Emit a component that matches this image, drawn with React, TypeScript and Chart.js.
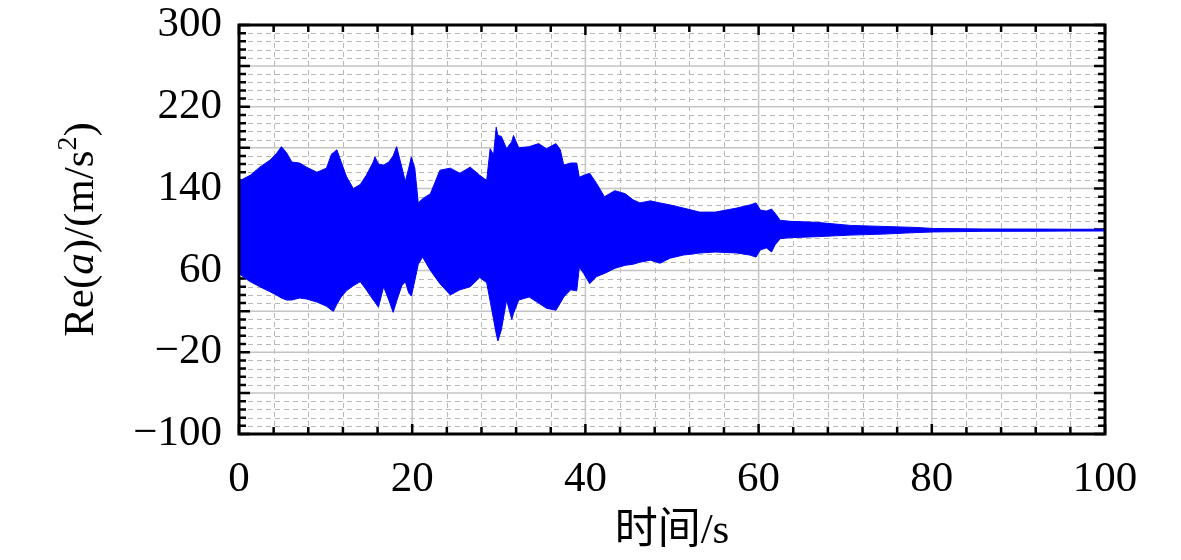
import { useEffect, useRef } from "react";
import { Chart, registerables } from "chart.js";

Chart.register(...registerables);

// time samples (s) along the record
const times = [
  0, 0.6, 1.3, 2.4, 3.6, 4.3, 4.9, 5.5, 6.1, 7, 7.8, 9, 10.1, 10.7, 10.9, 11.3,
  11.8, 12.4, 13.2, 14, 14.7, 15.5, 15.7, 16.1, 16.7, 17.3, 17.8, 18.2, 18.8,
  19.2, 19.6, 19.9, 20.3, 20.7, 21.2, 22.1, 23.2, 24.4, 25.5, 26.7, 27.8, 28.6,
  29, 29.4, 29.7, 29.9, 30.3, 30.9, 31.5, 31.7, 32.3, 33.5, 34.6, 35.5, 36.6,
  37.1, 37.5, 38.3, 39, 39.3, 39.8, 40.5, 41.3, 42.2, 43.4, 44.6, 45.5, 46.3,
  47.5, 48.6, 49.8, 51.3, 53.2, 55, 57.5, 59, 59.7, 60.2, 60.9, 61.5, 61.9,
  62.5, 63.6, 66.7, 70.6, 74.4, 78.2, 80.2, 86, 92, 96, 100,
];

// upper envelope of Re(a), m/s^2
const upperEnvelope = [
  147, 150, 153, 161, 168, 174, 181, 175, 166, 165, 161, 156, 160, 174, 175, 178,
  166, 152, 140, 144, 153, 166, 171, 164, 163, 166, 172, 181, 161,
  147, 160, 171, 160, 126, 130, 135, 158, 160, 155, 161, 153, 148,
  179, 173, 200, 192, 191, 179, 186, 192, 180, 181, 184, 179, 184,
  178, 163, 165, 165, 151, 153, 155, 145, 132, 138, 135, 129, 126,
  128, 126, 124, 121, 117, 117, 121, 124, 126, 119, 118, 120, 116,
  109, 108, 107, 104, 103, 102, 101, 100.5, 100.4, 100.2, 100.2,
];

// lower envelope of Re(a), m/s^2
const lowerEnvelope = [
  57, 53, 49, 44, 39, 36, 33, 31, 31, 33, 32, 29, 25, 21, 20, 27,
  34, 40, 45, 49, 41, 31, 29, 24, 44, 31, 19, 30, 45,
  49, 38, 35, 50, 66, 73, 60, 47, 36, 41, 44, 53, 48,
  30, 12, -2, -9, 2, 31, 12, 18, 31, 34, 28, 23, 21,
  28, 34, 41, 40, 63, 57, 47, 54, 57, 62, 65, 66, 68,
  70, 67, 72, 75, 77, 78, 77, 75, 73, 80, 82, 78, 85,
  91, 92, 93, 94.5, 95.5, 97, 97.6, 98.2, 98.3, 98.5, 98.5,
];

const X_MIN = 0;
const X_MAX = 100;
const X_LABEL_STEP = 20;
const X_MINOR_STEP = 4;
const Y_MIN = -100;
const Y_MAX = 300;
const Y_LABEL_STEP = 80;
const Y_MAJOR_STEP = 40;
const Y_MINOR_STEP = 8;

const SERIF = "'Liberation Serif', 'Times New Roman', 'Noto Sans CJK SC', serif";
const FONT_SIZE = 43;

const frameAndGrid = {
  id: "frameAndGrid",
  beforeDatasetsDraw(chart: any) {
    const { ctx, chartArea: a } = chart;
    const xs = chart.scales.x;
    const ys = chart.scales.y;
    ctx.save();

    // dashed minor grid
    ctx.lineWidth = 1;
    ctx.strokeStyle = "#b8b8b8";
    ctx.setLineDash([5, 4]);
    ctx.beginPath();
    for (let v = X_MIN + X_MINOR_STEP; v < X_MAX; v += X_MINOR_STEP) {
      if (v % X_LABEL_STEP === 0) continue;
      const px = Math.round(xs.getPixelForValue(v)) + 0.5;
      ctx.moveTo(px, a.top);
      ctx.lineTo(px, a.bottom);
    }
    for (let v = Y_MIN + Y_MINOR_STEP; v < Y_MAX; v += Y_MINOR_STEP) {
      if ((v - Y_MIN) % Y_MAJOR_STEP === 0) continue;
      const py = Math.round(ys.getPixelForValue(v)) + 0.5;
      ctx.moveTo(a.left, py);
      ctx.lineTo(a.right, py);
    }
    ctx.stroke();

    // solid major grid
    ctx.setLineDash([]);
    ctx.strokeStyle = "#c4c4c4";
    ctx.lineWidth = 1.5;
    ctx.beginPath();
    for (let v = X_MIN + X_LABEL_STEP; v < X_MAX; v += X_LABEL_STEP) {
      const px = xs.getPixelForValue(v);
      ctx.moveTo(px, a.top);
      ctx.lineTo(px, a.bottom);
    }
    for (let v = Y_MIN + Y_MAJOR_STEP; v < Y_MAX; v += Y_MAJOR_STEP) {
      const py = ys.getPixelForValue(v);
      ctx.moveTo(a.left, py);
      ctx.lineTo(a.right, py);
    }
    ctx.stroke();

    // inward ticks on all four sides
    ctx.strokeStyle = "#000";
    ctx.lineWidth = 2.5;
    ctx.beginPath();
    for (let v = X_MIN; v <= X_MAX; v += X_MINOR_STEP) {
      const len = v % X_LABEL_STEP === 0 ? 10 : 7;
      const px = xs.getPixelForValue(v);
      ctx.moveTo(px, a.bottom);
      ctx.lineTo(px, a.bottom - len);
      ctx.moveTo(px, a.top);
      ctx.lineTo(px, a.top + len);
    }
    for (let v = Y_MIN; v <= Y_MAX; v += Y_MINOR_STEP) {
      const len = (v - Y_MIN) % Y_MAJOR_STEP === 0 ? 11 : 7;
      const py = ys.getPixelForValue(v);
      ctx.moveTo(a.left, py);
      ctx.lineTo(a.left + len, py);
      ctx.moveTo(a.right, py);
      ctx.lineTo(a.right - len, py);
    }
    ctx.stroke();
    ctx.restore();
  },
  afterDatasetsDraw(chart: any) {
    const { ctx, chartArea: a } = chart;
    ctx.save();
    ctx.strokeStyle = "#000";
    ctx.lineWidth = 3;
    ctx.strokeRect(a.left, a.top, a.right - a.left, a.bottom - a.top);
    ctx.restore();
  },
  afterDraw(chart: any) {
    const { ctx, chartArea: a } = chart;
    ctx.save();
    ctx.fillStyle = "#000";

    // x title
    ctx.font = `${FONT_SIZE}px ${SERIF}`;
    ctx.textAlign = "center";
    ctx.textBaseline = "middle";
    ctx.fillText("时间/s", (a.left + a.right) / 2, a.bottom + 98);

    // y title, mixed styles: Re(a)/(m/s²)
    const parts = [
      { t: "Re(", f: `${FONT_SIZE}px ${SERIF}`, dy: 0 },
      { t: "a", f: `italic ${FONT_SIZE}px ${SERIF}`, dy: 0 },
      { t: ")/(m/s", f: `${FONT_SIZE}px ${SERIF}`, dy: 0 },
      { t: "2", f: `28px ${SERIF}`, dy: -17 },
      { t: ")", f: `${FONT_SIZE}px ${SERIF}`, dy: 0 },
    ];
    const widths = parts.map((p) => {
      ctx.font = p.f;
      return ctx.measureText(p.t).width;
    });
    const total = widths.reduce((s, w) => s + w, 0);
    ctx.translate(a.left - 146, (a.top + a.bottom) / 2);
    ctx.rotate(-Math.PI / 2);
    ctx.textAlign = "left";
    ctx.textBaseline = "alphabetic";
    let cx = -total / 2;
    parts.forEach((p, i) => {
      ctx.font = p.f;
      ctx.fillText(p.t, cx, p.dy);
      cx += widths[i];
    });
    ctx.restore();
  },
};

export default function App() {
  const canvasRef = useRef<HTMLCanvasElement | null>(null);

  useEffect(() => {
    if (!canvasRef.current) return;
    const upper = times.map((t, i) => ({ x: t, y: upperEnvelope[i] }));
    const lower = times.map((t, i) => ({ x: t, y: lowerEnvelope[i] }));

    const chart = new Chart(canvasRef.current, {
      type: "line",
      data: {
        datasets: [
          {
            label: "upper",
            data: upper,
            borderColor: "#0000ff",
            backgroundColor: "#0000ff",
            borderWidth: 1,
            pointRadius: 0,
            tension: 0,
            fill: "+1",
          },
          {
            label: "lower",
            data: lower,
            borderColor: "#0000ff",
            backgroundColor: "#0000ff",
            borderWidth: 1,
            pointRadius: 0,
            tension: 0,
            fill: false,
          },
        ],
      },
      options: {
        animation: false,
        responsive: true,
        maintainAspectRatio: false,
        layout: { padding: { top: 25, right: 76, left: 0, bottom: 0 } },
        plugins: {
          legend: { display: false },
          tooltip: { enabled: false },
        },
        scales: {
          x: {
            type: "linear",
            min: X_MIN,
            max: X_MAX,
            grid: { display: false, drawTicks: false, tickLength: 0 },
            border: { display: false },
            ticks: {
              stepSize: X_LABEL_STEP,
              padding: 20,
              color: "#000",
              maxRotation: 0,
              font: { family: SERIF, size: FONT_SIZE },
            },
            afterFit: (s: any) => {
              s.height = 126;
              s.paddingLeft = 0;
              s.paddingRight = 0;
            },
          },
          y: {
            type: "linear",
            min: Y_MIN,
            max: Y_MAX,
            grid: { display: false, drawTicks: false, tickLength: 0 },
            border: { display: false },
            ticks: {
              stepSize: Y_LABEL_STEP,
              padding: 17,
              color: "#000",
              font: { family: SERIF, size: FONT_SIZE },
              callback: (v: any) => String(v).replace("-", "\u2212"),
            },
            afterFit: (s: any) => {
              s.width = 239;
              s.paddingTop = 0;
              s.paddingBottom = 0;
            },
          },
        },
      },
      plugins: [frameAndGrid],
    });

    return () => chart.destroy();
  }, []);

  return (
    <div
      style={{
        position: "fixed",
        left: 0,
        top: 0,
        width: 1181,
        height: 560,
        background: "#fff",
      }}
    >
      <canvas ref={canvasRef} />
    </div>
  );
}
